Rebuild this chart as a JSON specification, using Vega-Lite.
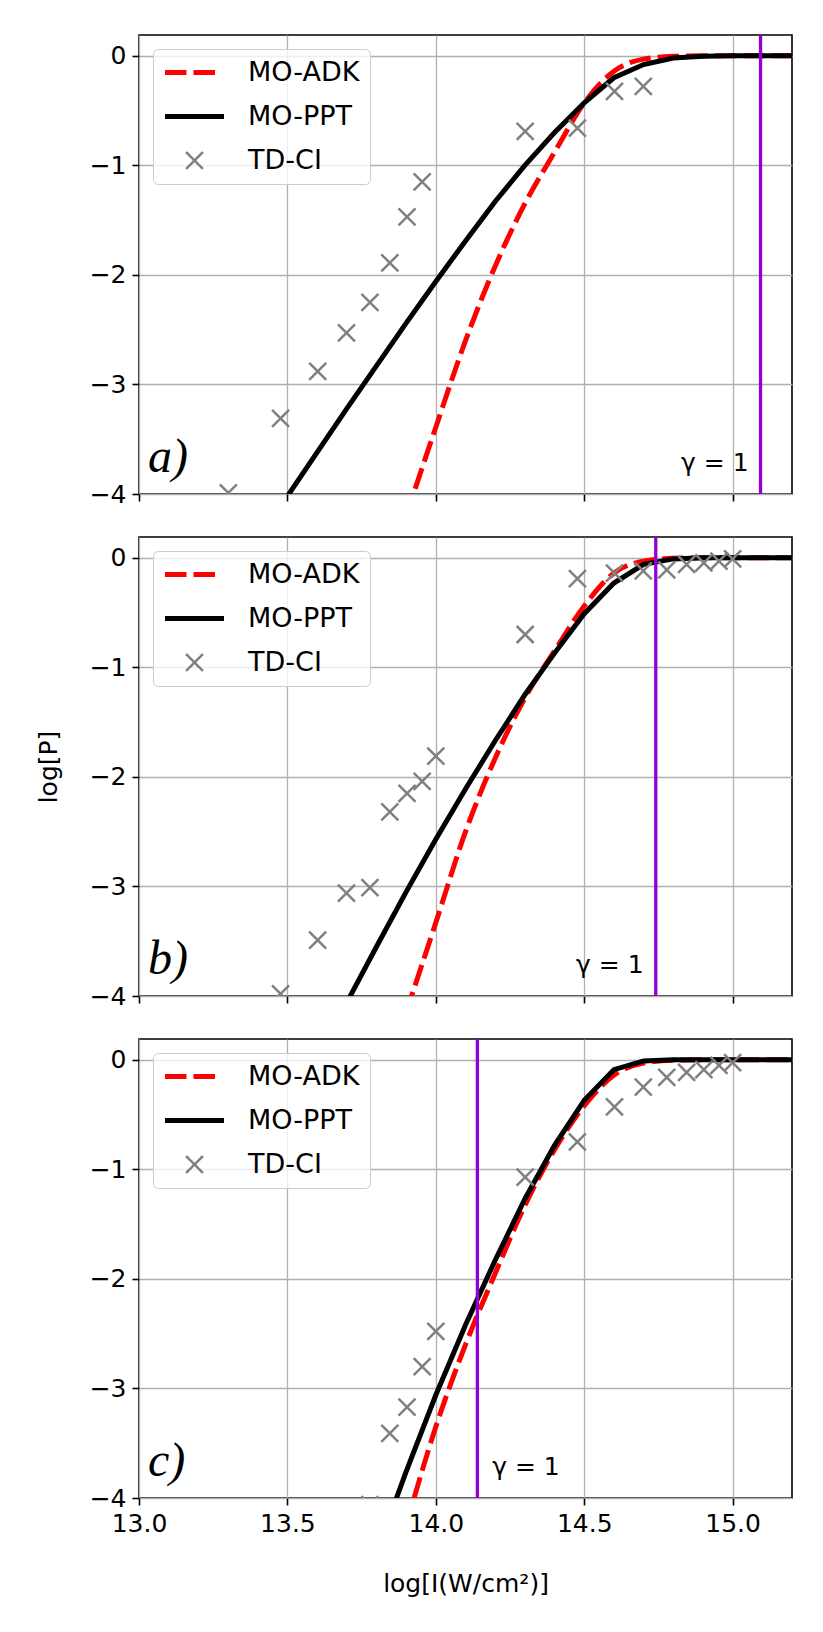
{
  "$schema": "https://vega.github.io/schema/vega-lite/v6.json",
  "padding": {"left": 35, "top": 32, "right": 10, "bottom": 10},
  "background": "white",
  "datasets": {
    "curves": [
      {"panel": "a", "series": "MO-ADK", "x": 13.9, "y": -4.2},
      {"panel": "a", "series": "MO-ADK", "x": 14.0, "y": -3.39},
      {"panel": "a", "series": "MO-ADK", "x": 14.1, "y": -2.6},
      {"panel": "a", "series": "MO-ADK", "x": 14.2, "y": -1.92},
      {"panel": "a", "series": "MO-ADK", "x": 14.3, "y": -1.35},
      {"panel": "a", "series": "MO-ADK", "x": 14.4, "y": -0.88},
      {"panel": "a", "series": "MO-ADK", "x": 14.5, "y": -0.43},
      {"panel": "a", "series": "MO-ADK", "x": 14.6, "y": -0.14},
      {"panel": "a", "series": "MO-ADK", "x": 14.7, "y": -0.03},
      {"panel": "a", "series": "MO-ADK", "x": 14.8, "y": -0.005},
      {"panel": "a", "series": "MO-ADK", "x": 14.9, "y": 0},
      {"panel": "a", "series": "MO-ADK", "x": 15.0, "y": 0},
      {"panel": "a", "series": "MO-ADK", "x": 15.1, "y": 0},
      {"panel": "a", "series": "MO-ADK", "x": 15.2, "y": 0},
      {"panel": "a", "series": "MO-PPT", "x": 13.5, "y": -4.02},
      {"panel": "a", "series": "MO-PPT", "x": 13.6, "y": -3.62},
      {"panel": "a", "series": "MO-PPT", "x": 13.7, "y": -3.22},
      {"panel": "a", "series": "MO-PPT", "x": 13.8, "y": -2.83},
      {"panel": "a", "series": "MO-PPT", "x": 13.9, "y": -2.44},
      {"panel": "a", "series": "MO-PPT", "x": 14.0, "y": -2.06},
      {"panel": "a", "series": "MO-PPT", "x": 14.1, "y": -1.69},
      {"panel": "a", "series": "MO-PPT", "x": 14.2, "y": -1.33},
      {"panel": "a", "series": "MO-PPT", "x": 14.3, "y": -1.0},
      {"panel": "a", "series": "MO-PPT", "x": 14.4, "y": -0.7},
      {"panel": "a", "series": "MO-PPT", "x": 14.5, "y": -0.43},
      {"panel": "a", "series": "MO-PPT", "x": 14.6, "y": -0.2},
      {"panel": "a", "series": "MO-PPT", "x": 14.7, "y": -0.08},
      {"panel": "a", "series": "MO-PPT", "x": 14.8, "y": -0.02},
      {"panel": "a", "series": "MO-PPT", "x": 14.9, "y": -0.005},
      {"panel": "a", "series": "MO-PPT", "x": 15.0, "y": 0},
      {"panel": "a", "series": "MO-PPT", "x": 15.1, "y": 0},
      {"panel": "a", "series": "MO-PPT", "x": 15.2, "y": 0},
      {"panel": "b", "series": "MO-ADK", "x": 13.9, "y": -4.15},
      {"panel": "b", "series": "MO-ADK", "x": 14.0, "y": -3.33},
      {"panel": "b", "series": "MO-ADK", "x": 14.1, "y": -2.5},
      {"panel": "b", "series": "MO-ADK", "x": 14.2, "y": -1.83},
      {"panel": "b", "series": "MO-ADK", "x": 14.3, "y": -1.28},
      {"panel": "b", "series": "MO-ADK", "x": 14.4, "y": -0.85},
      {"panel": "b", "series": "MO-ADK", "x": 14.5, "y": -0.44},
      {"panel": "b", "series": "MO-ADK", "x": 14.6, "y": -0.14},
      {"panel": "b", "series": "MO-ADK", "x": 14.7, "y": -0.03},
      {"panel": "b", "series": "MO-ADK", "x": 14.8, "y": -0.005},
      {"panel": "b", "series": "MO-ADK", "x": 14.9, "y": 0},
      {"panel": "b", "series": "MO-ADK", "x": 15.0, "y": 0},
      {"panel": "b", "series": "MO-ADK", "x": 15.1, "y": 0},
      {"panel": "b", "series": "MO-ADK", "x": 15.2, "y": 0},
      {"panel": "b", "series": "MO-PPT", "x": 13.7, "y": -4.06},
      {"panel": "b", "series": "MO-PPT", "x": 13.8, "y": -3.55},
      {"panel": "b", "series": "MO-PPT", "x": 13.9, "y": -3.05},
      {"panel": "b", "series": "MO-PPT", "x": 14.0, "y": -2.57},
      {"panel": "b", "series": "MO-PPT", "x": 14.1, "y": -2.11},
      {"panel": "b", "series": "MO-PPT", "x": 14.2, "y": -1.67},
      {"panel": "b", "series": "MO-PPT", "x": 14.3, "y": -1.25},
      {"panel": "b", "series": "MO-PPT", "x": 14.4, "y": -0.87},
      {"panel": "b", "series": "MO-PPT", "x": 14.5, "y": -0.51},
      {"panel": "b", "series": "MO-PPT", "x": 14.6, "y": -0.23},
      {"panel": "b", "series": "MO-PPT", "x": 14.7, "y": -0.06},
      {"panel": "b", "series": "MO-PPT", "x": 14.8, "y": -0.01},
      {"panel": "b", "series": "MO-PPT", "x": 14.9, "y": 0},
      {"panel": "b", "series": "MO-PPT", "x": 15.0, "y": 0},
      {"panel": "b", "series": "MO-PPT", "x": 15.1, "y": 0},
      {"panel": "b", "series": "MO-PPT", "x": 15.2, "y": 0},
      {"panel": "c", "series": "MO-ADK", "x": 13.9, "y": -4.25},
      {"panel": "c", "series": "MO-ADK", "x": 14.0, "y": -3.35},
      {"panel": "c", "series": "MO-ADK", "x": 14.1, "y": -2.6},
      {"panel": "c", "series": "MO-ADK", "x": 14.2, "y": -1.95},
      {"panel": "c", "series": "MO-ADK", "x": 14.3, "y": -1.33},
      {"panel": "c", "series": "MO-ADK", "x": 14.4, "y": -0.82},
      {"panel": "c", "series": "MO-ADK", "x": 14.5, "y": -0.42},
      {"panel": "c", "series": "MO-ADK", "x": 14.6, "y": -0.14},
      {"panel": "c", "series": "MO-ADK", "x": 14.7, "y": -0.03},
      {"panel": "c", "series": "MO-ADK", "x": 14.8, "y": -0.005},
      {"panel": "c", "series": "MO-ADK", "x": 14.9, "y": 0},
      {"panel": "c", "series": "MO-ADK", "x": 15.0, "y": 0},
      {"panel": "c", "series": "MO-ADK", "x": 15.1, "y": 0},
      {"panel": "c", "series": "MO-ADK", "x": 15.2, "y": 0},
      {"panel": "c", "series": "MO-PPT", "x": 13.8, "y": -4.5},
      {"panel": "c", "series": "MO-PPT", "x": 13.9, "y": -3.76},
      {"panel": "c", "series": "MO-PPT", "x": 14.0, "y": -3.06},
      {"panel": "c", "series": "MO-PPT", "x": 14.1, "y": -2.42},
      {"panel": "c", "series": "MO-PPT", "x": 14.2, "y": -1.83},
      {"panel": "c", "series": "MO-PPT", "x": 14.3, "y": -1.27},
      {"panel": "c", "series": "MO-PPT", "x": 14.4, "y": -0.78},
      {"panel": "c", "series": "MO-PPT", "x": 14.5, "y": -0.37},
      {"panel": "c", "series": "MO-PPT", "x": 14.6, "y": -0.09},
      {"panel": "c", "series": "MO-PPT", "x": 14.7, "y": -0.01},
      {"panel": "c", "series": "MO-PPT", "x": 14.8, "y": 0},
      {"panel": "c", "series": "MO-PPT", "x": 14.9, "y": 0},
      {"panel": "c", "series": "MO-PPT", "x": 15.0, "y": 0},
      {"panel": "c", "series": "MO-PPT", "x": 15.1, "y": 0},
      {"panel": "c", "series": "MO-PPT", "x": 15.2, "y": 0}
    ],
    "tdci": [
      {"panel": "a", "series": "TD-CI", "x": 13.301, "y": -3.99},
      {"panel": "a", "series": "TD-CI", "x": 13.477, "y": -3.31},
      {"panel": "a", "series": "TD-CI", "x": 13.602, "y": -2.88},
      {"panel": "a", "series": "TD-CI", "x": 13.699, "y": -2.53},
      {"panel": "a", "series": "TD-CI", "x": 13.778, "y": -2.25},
      {"panel": "a", "series": "TD-CI", "x": 13.845, "y": -1.89},
      {"panel": "a", "series": "TD-CI", "x": 13.903, "y": -1.47},
      {"panel": "a", "series": "TD-CI", "x": 13.954, "y": -1.15},
      {"panel": "a", "series": "TD-CI", "x": 14.301, "y": -0.69},
      {"panel": "a", "series": "TD-CI", "x": 14.477, "y": -0.66},
      {"panel": "a", "series": "TD-CI", "x": 14.602, "y": -0.325},
      {"panel": "a", "series": "TD-CI", "x": 14.699, "y": -0.28},
      {"panel": "b", "series": "TD-CI", "x": 13.477, "y": -3.98},
      {"panel": "b", "series": "TD-CI", "x": 13.602, "y": -3.49},
      {"panel": "b", "series": "TD-CI", "x": 13.699, "y": -3.06},
      {"panel": "b", "series": "TD-CI", "x": 13.778, "y": -3.01},
      {"panel": "b", "series": "TD-CI", "x": 13.845, "y": -2.32},
      {"panel": "b", "series": "TD-CI", "x": 13.903, "y": -2.15},
      {"panel": "b", "series": "TD-CI", "x": 13.954, "y": -2.04},
      {"panel": "b", "series": "TD-CI", "x": 14.0, "y": -1.81},
      {"panel": "b", "series": "TD-CI", "x": 14.301, "y": -0.7},
      {"panel": "b", "series": "TD-CI", "x": 14.477, "y": -0.19},
      {"panel": "b", "series": "TD-CI", "x": 14.602, "y": -0.14},
      {"panel": "b", "series": "TD-CI", "x": 14.699, "y": -0.12},
      {"panel": "b", "series": "TD-CI", "x": 14.778, "y": -0.11},
      {"panel": "b", "series": "TD-CI", "x": 14.845, "y": -0.06},
      {"panel": "b", "series": "TD-CI", "x": 14.903, "y": -0.046},
      {"panel": "b", "series": "TD-CI", "x": 14.954, "y": -0.03},
      {"panel": "b", "series": "TD-CI", "x": 15.0, "y": -0.01},
      {"panel": "c", "series": "TD-CI", "x": 13.778, "y": -4.06},
      {"panel": "c", "series": "TD-CI", "x": 13.845, "y": -3.41},
      {"panel": "c", "series": "TD-CI", "x": 13.903, "y": -3.17},
      {"panel": "c", "series": "TD-CI", "x": 13.954, "y": -2.8},
      {"panel": "c", "series": "TD-CI", "x": 14.0, "y": -2.48},
      {"panel": "c", "series": "TD-CI", "x": 14.301, "y": -1.07},
      {"panel": "c", "series": "TD-CI", "x": 14.477, "y": -0.75},
      {"panel": "c", "series": "TD-CI", "x": 14.602, "y": -0.43},
      {"panel": "c", "series": "TD-CI", "x": 14.699, "y": -0.25},
      {"panel": "c", "series": "TD-CI", "x": 14.778, "y": -0.16},
      {"panel": "c", "series": "TD-CI", "x": 14.845, "y": -0.115},
      {"panel": "c", "series": "TD-CI", "x": 14.903, "y": -0.09},
      {"panel": "c", "series": "TD-CI", "x": 14.954, "y": -0.05},
      {"panel": "c", "series": "TD-CI", "x": 15.0, "y": -0.026}
    ],
    "gamma": [
      {"panel": "a", "x": 15.094},
      {"panel": "b", "x": 14.741},
      {"panel": "c", "x": 14.14}
    ]
  },
  "vconcat": [
    {
      "width": 653,
      "height": 459,
      "layer": [
        {
          "data": {"name": "curves"},
          "transform": [{"filter": "datum.panel === 'a' && datum.series === 'MO-ADK'"}],
          "mark": {"type": "line", "strokeWidth": 5, "strokeDash": [21.5, 7], "interpolate": "monotone", "clip": true},
          "encoding": {
            "x": {"field": "x", "type": "quantitative", "scale": {"domain": [13, 15.2], "nice": false, "zero": false}, "axis": {"values": [13, 13.5, 14, 14.5, 15], "labels": false, "title": null}},
            "y": {"field": "y", "type": "quantitative", "scale": {"domain": [-4, 0.19], "nice": false, "zero": false}, "axis": {"values": [-4, -3, -2, -1, 0], "format": "d", "title": null}},
            "color": {
              "field": "series", "type": "nominal",
              "scale": {"domain": ["MO-ADK", "MO-PPT", "TD-CI"], "range": ["#ff0000", "#000000", "#808080"]},
              "legend": {
                "title": null, "orient": "top-left", "offset": 14, "padding": 10,
                "fillColor": "rgba(255,255,255,0.8)", "strokeColor": "#cccccc", "cornerRadius": 5,
                "labelFont": "DejaVu Sans", "labelFontSize": 27, "labelColor": "#000000",
                "symbolSize": 387, "symbolOffset": 18, "labelOffset": 40, "rowPadding": 16,
                "encode": {"symbols": {"update": {
                  "shape": {"signal": "datum.value === 'TD-CI' ? 'M-0.86,-0.86L0.86,0.86M0.86,-0.86L-0.86,0.86' : datum.value === 'MO-ADK' ? 'M-3,0L2.1,0' : 'M-3,0L3,0'"},
                  "strokeDash": {"signal": "datum.value === 'MO-ADK' ? [21.5, 7] : [1, 0]"},
                  "strokeWidth": {"signal": "datum.value === 'TD-CI' ? 2.5 : 5"},
                  "stroke": {"signal": "datum.value === 'MO-ADK' ? '#ff0000' : datum.value === 'MO-PPT' ? '#000000' : '#808080'"},
                  "fill": {"value": "transparent"},
                  "opacity": {"value": 1}
                }}}
              }
            }
          }
        },
        {
          "data": {"name": "curves"},
          "transform": [{"filter": "datum.panel === 'a' && datum.series === 'MO-PPT'"}],
          "mark": {"type": "line", "strokeWidth": 5, "clip": true},
          "encoding": {
            "x": {"field": "x", "type": "quantitative"},
            "y": {"field": "y", "type": "quantitative"},
            "color": {"field": "series", "type": "nominal"}
          }
        },
        {
          "data": {"name": "tdci"},
          "transform": [{"filter": "datum.panel === 'a'"}],
          "mark": {"type": "point", "shape": "M-1,-1L1,1M1,-1L-1,1", "size": 289, "filled": false, "strokeWidth": 2.5, "opacity": 1, "clip": true},
          "encoding": {
            "x": {"field": "x", "type": "quantitative"},
            "y": {"field": "y", "type": "quantitative"},
            "color": {"field": "series", "type": "nominal"}
          }
        },
        {
          "data": {"name": "gamma"},
          "transform": [{"filter": "datum.panel === 'a'"}],
          "mark": {"type": "rule", "color": "#9400d3", "strokeWidth": 3.3},
          "encoding": {"x": {"field": "x", "type": "quantitative"}}
        },
        {
          "data": {"name": "gamma"},
          "transform": [{"filter": "datum.panel === 'a'"}],
          "mark": {"type": "text", "text": "γ = 1", "align": "right", "baseline": "alphabetic", "font": "DejaVu Sans", "fontSize": 25, "color": "#000000"},
          "encoding": {"x": {"datum": 15.054, "type": "quantitative"}, "y": {"datum": -3.79, "type": "quantitative"}}
        },
        {
          "data": {"name": "gamma"},
          "transform": [{"filter": "datum.panel === 'a'"}],
          "mark": {"type": "text", "text": "a)", "align": "left", "baseline": "alphabetic", "font": "Liberation Serif", "fontStyle": "italic", "fontSize": 48, "color": "#000000"},
          "encoding": {"x": {"datum": 13.03, "type": "quantitative"}, "y": {"datum": -3.8, "type": "quantitative"}}
        }
      ]
    },
    {
      "width": 653,
      "height": 459,
      "layer": [
        {
          "data": {"name": "curves"},
          "transform": [{"filter": "datum.panel === 'b' && datum.series === 'MO-ADK'"}],
          "mark": {"type": "line", "strokeWidth": 5, "strokeDash": [21.5, 7], "interpolate": "monotone", "clip": true},
          "encoding": {
            "x": {"field": "x", "type": "quantitative", "scale": {"domain": [13, 15.2], "nice": false, "zero": false}, "axis": {"values": [13, 13.5, 14, 14.5, 15], "labels": false, "title": null}},
            "y": {"field": "y", "type": "quantitative", "scale": {"domain": [-4, 0.19], "nice": false, "zero": false}, "axis": {"values": [-4, -3, -2, -1, 0], "format": "d", "title": "log[P]", "titlePadding": 28}},
            "color": {
              "field": "series", "type": "nominal",
              "scale": {"domain": ["MO-ADK", "MO-PPT", "TD-CI"], "range": ["#ff0000", "#000000", "#808080"]},
              "legend": {
                "title": null, "orient": "top-left", "offset": 14, "padding": 10,
                "fillColor": "rgba(255,255,255,0.8)", "strokeColor": "#cccccc", "cornerRadius": 5,
                "labelFont": "DejaVu Sans", "labelFontSize": 27, "labelColor": "#000000",
                "symbolSize": 387, "symbolOffset": 18, "labelOffset": 40, "rowPadding": 16,
                "encode": {"symbols": {"update": {
                  "shape": {"signal": "datum.value === 'TD-CI' ? 'M-0.86,-0.86L0.86,0.86M0.86,-0.86L-0.86,0.86' : datum.value === 'MO-ADK' ? 'M-3,0L2.1,0' : 'M-3,0L3,0'"},
                  "strokeDash": {"signal": "datum.value === 'MO-ADK' ? [21.5, 7] : [1, 0]"},
                  "strokeWidth": {"signal": "datum.value === 'TD-CI' ? 2.5 : 5"},
                  "stroke": {"signal": "datum.value === 'MO-ADK' ? '#ff0000' : datum.value === 'MO-PPT' ? '#000000' : '#808080'"},
                  "fill": {"value": "transparent"},
                  "opacity": {"value": 1}
                }}}
              }
            }
          }
        },
        {
          "data": {"name": "curves"},
          "transform": [{"filter": "datum.panel === 'b' && datum.series === 'MO-PPT'"}],
          "mark": {"type": "line", "strokeWidth": 5, "clip": true},
          "encoding": {
            "x": {"field": "x", "type": "quantitative"},
            "y": {"field": "y", "type": "quantitative"},
            "color": {"field": "series", "type": "nominal"}
          }
        },
        {
          "data": {"name": "tdci"},
          "transform": [{"filter": "datum.panel === 'b'"}],
          "mark": {"type": "point", "shape": "M-1,-1L1,1M1,-1L-1,1", "size": 289, "filled": false, "strokeWidth": 2.5, "opacity": 1, "clip": true},
          "encoding": {
            "x": {"field": "x", "type": "quantitative"},
            "y": {"field": "y", "type": "quantitative"},
            "color": {"field": "series", "type": "nominal"}
          }
        },
        {
          "data": {"name": "gamma"},
          "transform": [{"filter": "datum.panel === 'b'"}],
          "mark": {"type": "rule", "color": "#9400d3", "strokeWidth": 3.3},
          "encoding": {"x": {"field": "x", "type": "quantitative"}}
        },
        {
          "data": {"name": "gamma"},
          "transform": [{"filter": "datum.panel === 'b'"}],
          "mark": {"type": "text", "text": "γ = 1", "align": "right", "baseline": "alphabetic", "font": "DejaVu Sans", "fontSize": 25, "color": "#000000"},
          "encoding": {"x": {"datum": 14.70, "type": "quantitative"}, "y": {"datum": -3.79, "type": "quantitative"}}
        },
        {
          "data": {"name": "gamma"},
          "transform": [{"filter": "datum.panel === 'b'"}],
          "mark": {"type": "text", "text": "b)", "align": "left", "baseline": "alphabetic", "font": "Liberation Serif", "fontStyle": "italic", "fontSize": 48, "color": "#000000"},
          "encoding": {"x": {"datum": 13.03, "type": "quantitative"}, "y": {"datum": -3.8, "type": "quantitative"}}
        }
      ]
    },
    {
      "width": 653,
      "height": 459,
      "layer": [
        {
          "data": {"name": "curves"},
          "transform": [{"filter": "datum.panel === 'c' && datum.series === 'MO-ADK'"}],
          "mark": {"type": "line", "strokeWidth": 5, "strokeDash": [21.5, 7], "interpolate": "monotone", "clip": true},
          "encoding": {
            "x": {"field": "x", "type": "quantitative", "scale": {"domain": [13, 15.2], "nice": false, "zero": false}, "axis": {"values": [13, 13.5, 14, 14.5, 15], "format": ".1f", "title": "log[I(W/cm²)]", "titlePadding": 35}},
            "y": {"field": "y", "type": "quantitative", "scale": {"domain": [-4, 0.19], "nice": false, "zero": false}, "axis": {"values": [-4, -3, -2, -1, 0], "format": "d", "title": null}},
            "color": {
              "field": "series", "type": "nominal",
              "scale": {"domain": ["MO-ADK", "MO-PPT", "TD-CI"], "range": ["#ff0000", "#000000", "#808080"]},
              "legend": {
                "title": null, "orient": "top-left", "offset": 14, "padding": 10,
                "fillColor": "rgba(255,255,255,0.8)", "strokeColor": "#cccccc", "cornerRadius": 5,
                "labelFont": "DejaVu Sans", "labelFontSize": 27, "labelColor": "#000000",
                "symbolSize": 387, "symbolOffset": 18, "labelOffset": 40, "rowPadding": 16,
                "encode": {"symbols": {"update": {
                  "shape": {"signal": "datum.value === 'TD-CI' ? 'M-0.86,-0.86L0.86,0.86M0.86,-0.86L-0.86,0.86' : datum.value === 'MO-ADK' ? 'M-3,0L2.1,0' : 'M-3,0L3,0'"},
                  "strokeDash": {"signal": "datum.value === 'MO-ADK' ? [21.5, 7] : [1, 0]"},
                  "strokeWidth": {"signal": "datum.value === 'TD-CI' ? 2.5 : 5"},
                  "stroke": {"signal": "datum.value === 'MO-ADK' ? '#ff0000' : datum.value === 'MO-PPT' ? '#000000' : '#808080'"},
                  "fill": {"value": "transparent"},
                  "opacity": {"value": 1}
                }}}
              }
            }
          }
        },
        {
          "data": {"name": "curves"},
          "transform": [{"filter": "datum.panel === 'c' && datum.series === 'MO-PPT'"}],
          "mark": {"type": "line", "strokeWidth": 5, "clip": true},
          "encoding": {
            "x": {"field": "x", "type": "quantitative"},
            "y": {"field": "y", "type": "quantitative"},
            "color": {"field": "series", "type": "nominal"}
          }
        },
        {
          "data": {"name": "tdci"},
          "transform": [{"filter": "datum.panel === 'c'"}],
          "mark": {"type": "point", "shape": "M-1,-1L1,1M1,-1L-1,1", "size": 289, "filled": false, "strokeWidth": 2.5, "opacity": 1, "clip": true},
          "encoding": {
            "x": {"field": "x", "type": "quantitative"},
            "y": {"field": "y", "type": "quantitative"},
            "color": {"field": "series", "type": "nominal"}
          }
        },
        {
          "data": {"name": "gamma"},
          "transform": [{"filter": "datum.panel === 'c'"}],
          "mark": {"type": "rule", "color": "#9400d3", "strokeWidth": 3.3},
          "encoding": {"x": {"field": "x", "type": "quantitative"}}
        },
        {
          "data": {"name": "gamma"},
          "transform": [{"filter": "datum.panel === 'c'"}],
          "mark": {"type": "text", "text": "γ = 1", "align": "left", "baseline": "alphabetic", "font": "DejaVu Sans", "fontSize": 25, "color": "#000000"},
          "encoding": {"x": {"datum": 14.19, "type": "quantitative"}, "y": {"datum": -3.79, "type": "quantitative"}}
        },
        {
          "data": {"name": "gamma"},
          "transform": [{"filter": "datum.panel === 'c'"}],
          "mark": {"type": "text", "text": "c)", "align": "left", "baseline": "alphabetic", "font": "Liberation Serif", "fontStyle": "italic", "fontSize": 48, "color": "#000000"},
          "encoding": {"x": {"datum": 13.03, "type": "quantitative"}, "y": {"datum": -3.8, "type": "quantitative"}}
        }
      ]
    }
  ],
  "spacing": 43,
  "bounds": "flush",
  "resolve": {"scale": {"color": "independent"}, "legend": {"color": "independent"}},
  "config": {
    "font": "DejaVu Sans",
    "view": {"stroke": "#000000", "strokeWidth": 1.6},
    "axis": {
      "labelFont": "DejaVu Sans", "labelFontSize": 25, "labelColor": "#000000",
      "titleFont": "DejaVu Sans", "titleFontSize": 25, "titleFontWeight": "normal", "titleColor": "#000000",
      "tickSize": 7, "tickColor": "#000000", "tickWidth": 1.6,
      "domain": false, "grid": true, "gridColor": "#b0b0b0", "gridWidth": 1.3,
      "labelPadding": 6, "labelFlush": false, "labelOverlap": false
    }
  }
}
